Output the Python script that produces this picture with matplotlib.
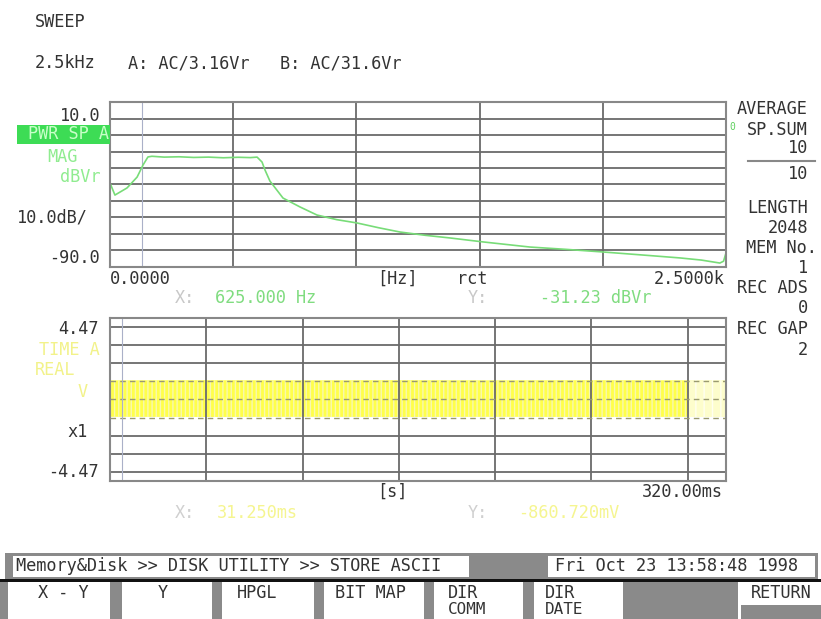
import numpy as np
import matplotlib.pyplot as plt
from matplotlib.patches import Rectangle

plt.rcParams['font.family'] = 'DejaVu Sans Mono'
plt.rcParams['hatch.linewidth'] = 1.0

# power spectrum (upper trace)
freq_hz = [0, 20, 69, 110, 134, 154, 170, 220, 280, 340, 400, 460, 520, 570, 597,
           617, 629, 649, 702, 771, 840, 920, 1002, 1090, 1177, 1280, 1380, 1514,
           1704, 1850, 2001, 2150, 2313, 2400, 2475, 2490, 2500]
mag_dbvr = [-39.1, -46.4, -42.1, -35.5, -28.2, -23.3, -22.9, -23.4, -23.2, -23.6,
            -23.4, -23.8, -23.5, -23.7, -23.4, -26.4, -31.2, -37.9, -48.2, -53.6,
            -58.5, -61.3, -63.3, -66.2, -68.8, -70.8, -72.4, -74.8, -77.9, -79.3,
            -80.9, -82.6, -84.5, -85.8, -87.6, -86.5, -81.5]

# time record (lower trace), envelope of the dense waveform
time_ms = [0, 50, 100, 150, 200, 250, 300]
v_top = [1.05, 1.06, 1.05, 1.06, 1.05, 1.06, 1.05]
v_bot = [-0.95, -0.96, -0.95, -0.96, -0.95, -0.96, -0.95]
tail_ms = [300, 320]
tail_top = [1.05, 1.05]
tail_bot = [-0.95, -0.95]

W, H = 821, 619
fig = plt.figure(figsize=(W / 100, H / 100), dpi=100)
fig.patch.set_facecolor('white')


def px(x, y):
    return x / W, 1 - y / H


def label(x, y, s, ha='left', color='#333333', size=12.2, **kw):
    fig.text(*px(x, y), s, ha=ha, va='center', color=color, fontsize=size, **kw)


grid_c = '#6a6a6a'

# --- upper plot ---
ax1 = fig.add_axes([110 / W, 1 - 267 / H, 616 / W, 165 / H])
ax1.set_xlim(0, 2500)
ax1.set_ylim(-90, 10)
for f in [500, 1000, 1500, 2000]:
    ax1.axvline(f, color=grid_c, lw=1.3)
for d in range(-80, 10, 10):
    ax1.axhline(d, color=grid_c, lw=1.3)
ax1.axvline(130, color='#aab0c8', lw=0.8)
ax1.plot(freq_hz, mag_dbvr, color='#78dc78', lw=1.2)
ax1.set_xticks([])
ax1.set_yticks([])
for s in ax1.spines.values():
    s.set_color('#888888')
    s.set_linewidth(1.5)

# --- lower plot ---
ax2 = fig.add_axes([110 / W, 1 - 481 / H, 616 / W, 163 / H])
ax2.set_xlim(0, 320)
ax2.set_ylim(-4.47, 4.47)
ax2.fill_between(time_ms, v_bot, v_top, facecolor='#ffff4a', edgecolor='#f8f8b0',
                 hatch='||||', lw=0, zorder=1)
ax2.fill_between(tail_ms, tail_bot, tail_top, facecolor='#fdfdcc', edgecolor='#fffff0',
                 hatch='||', lw=0, zorder=1)
for t in [50, 100, 150, 200, 250, 300]:
    ax2.axvline(t, color=grid_c, lw=1.3, zorder=2)
for v in [4, 3, 2, -2, -3, -4]:
    ax2.axhline(v, color=grid_c, lw=1.3, zorder=2)
for v in [1, 0, -1]:
    ax2.axhline(v, color='#9a9a70', lw=1.0, ls=(0, (4, 3)), zorder=2)
ax2.axvline(6.2, color='#aab0c8', lw=0.8, zorder=2)
ax2.set_xticks([])
ax2.set_yticks([])
for s in ax2.spines.values():
    s.set_color('#888888')
    s.set_linewidth(1.5)

# --- header text ---
label(35, 22, 'SWEEP')
label(35, 63, '2.5kHz')
label(128, 63, 'A: AC/3.16Vr')
label(280, 63, 'B: AC/31.6Vr')

# upper plot labels
fig.patches.append(Rectangle(px(17, 144), 93 / W, 19 / H, transform=fig.transFigure,
                             facecolor='#3ddc55', edgecolor='none'))
label(100, 116, '10.0', ha='right')
label(109, 134, 'PWR SP A', ha='right', color='#c8ffc8')
label(78, 157, 'MAG', ha='right', color='#90ec90')
label(100, 177, 'dBVr', ha='right', color='#90ec90')
label(17, 217, '10.0dB/')
label(100, 258, '-90.0', ha='right')
label(110, 279, '0.0000')
label(377, 279, '[Hz]')
label(457, 279, 'rct')
label(725, 279, '2.5000k', ha='right')
label(729, 127, '0', color='#60d060', size=7)
label(175, 298, 'X:', color='#c8c8c8')
label(215, 298, '625.000 Hz', color='#80dc80')
label(468, 298, 'Y:', color='#c8c8c8')
label(540, 298, '-31.23 dBVr', color='#80dc80')

# lower plot labels
label(99, 329, '4.47', ha='right')
label(100, 350, 'TIME A', ha='right', color='#f2f28a')
label(75, 370, 'REAL', ha='right', color='#f2f28a')
label(88, 392, 'V', ha='right', color='#f2f28a')
label(88, 432, 'x1', ha='right')
label(99, 472, '-4.47', ha='right')
label(377, 492, '[s]')
label(723, 492, '320.00ms', ha='right')
label(175, 513, 'X:', color='#d0d0d0')
label(217, 513, '31.250ms', color='#f5f590')
label(468, 513, 'Y:', color='#d0d0d0')
label(518, 513, '-860.720mV', color='#f5f590')

# right side panel
label(808, 109, 'AVERAGE', ha='right')
label(808, 130, 'SP.SUM', ha='right')
label(808, 148, '10', ha='right')
fig.add_artist(plt.Line2D([748 / W, 815 / W], [1 - 161 / H] * 2, color='#888888', lw=1.5))
label(808, 174, '10', ha='right')
label(808, 208, 'LENGTH', ha='right')
label(808, 228, '2048', ha='right')
label(817, 248, 'MEM No.', ha='right')
label(808, 268, '1', ha='right')
label(808, 288, 'REC ADS', ha='right')
label(808, 308, '0', ha='right')
label(808, 329, 'REC GAP', ha='right')
label(808, 350, '2', ha='right')


# --- status bar and soft keys ---
def box(x0, y0, x1, y1, color):
    fig.patches.append(Rectangle(px(x0, y1), (x1 - x0) / W, (y1 - y0) / H,
                                 transform=fig.transFigure, facecolor=color,
                                 edgecolor='none'))


box(5, 553, 818, 580, '#8a8a8a')
box(13, 556, 469, 577, 'white')
box(548, 556, 815, 577, 'white')
label(16, 566, 'Memory&Disk >> DISK UTILITY >> STORE ASCII')
label(555, 566, 'Fri Oct 23 13:58:48 1998')
box(0, 579, 821, 582, '#111111')
box(0, 582, 821, 619, 'white')
for x0, x1 in [(0, 8), (110, 122), (212, 222), (314, 324), (424, 434), (523, 534),
               (623, 738)]:
    box(x0, 582, x1, 619, '#8a8a8a')
box(741, 605, 821, 619, '#8a8a8a')

label(63, 593, 'X - Y', ha='center')
label(163, 593, 'Y', ha='center')
label(257, 593, 'HPGL', ha='center')
label(370, 593, 'BIT MAP', ha='center')
label(448, 593, 'DIR')
label(448, 609, 'COMM', size=11.5)
label(545, 593, 'DIR')
label(545, 609, 'DATE', size=11.5)
label(781, 593, 'RETURN', ha='center')

fig.savefig('out.png', dpi=100, facecolor='white')
